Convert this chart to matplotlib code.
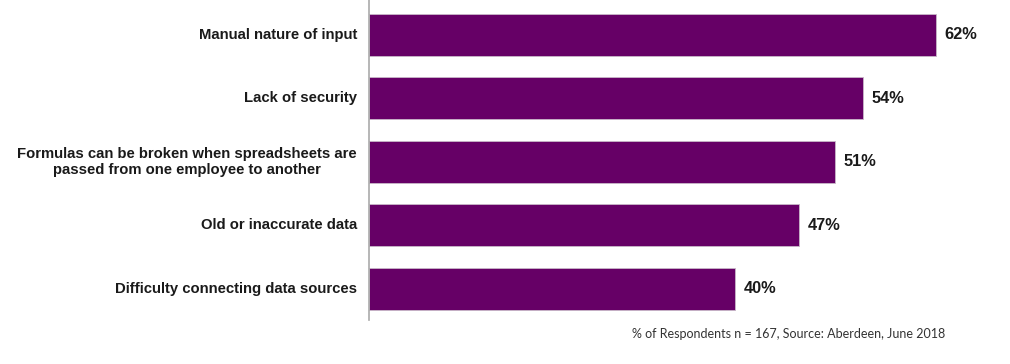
import matplotlib.pyplot as plt
from matplotlib.transforms import blended_transform_factory, offset_copy

categories = [
    "Manual nature of input",
    "Lack of security",
    "Formulas can be broken when spreadsheets are\npassed from one employee to another",
    "Old or inaccurate data",
    "Difficulty connecting data sources",
]
values = [62, 54, 51, 47, 40]
value_labels = ["62%", "54%", "51%", "47%", "40%"]

bar_color = "#660066"

fig = plt.figure(figsize=(10.1, 3.64), dpi=100)
ax = fig.add_axes([369 / 1010, 44 / 364, 640 / 1010, 320 / 364])

pos = list(range(len(categories)))
ax.barh(pos, values, height=0.66, color=bar_color, edgecolor="#c8b8c8", linewidth=0.6)

for p, v, lab in zip(pos, values, value_labels):
    ax.text(v + 0.95, p, lab, va="center", ha="left", fontsize=11.8,
            fontweight="bold", family="Liberation Sans", color="#1a1a1a")

# category labels, right aligned left of the axis line
tr = offset_copy(blended_transform_factory(ax.transAxes, ax.transData),
                 fig=fig, x=-12, y=0, units="dots")
for p, cat in zip(pos, categories):
    ax.text(0, p, cat, transform=tr, ha="right", va="center", multialignment="center",
            fontsize=10.7, fontweight="bold", family="Liberation Sans", color="#1a1a1a",
            linespacing=1.25)

ax.set_xlim(0, 70)
ax.set_ylim(4.49, -0.55)
ax.set_yticks([])
ax.set_xticks([])

for s in ["top", "right", "bottom"]:
    ax.spines[s].set_visible(False)
ax.spines["left"].set_color("#aaaaaa")
ax.spines["left"].set_linewidth(1.2)

fig.text(945 / 1010, 1 - 334 / 364, "% of Respondents n = 167, Source: Aberdeen, June 2018",
         ha="right", va="center", fontsize=9, family="Lato", color="#333333")

fig.savefig("out.png", dpi=100)
